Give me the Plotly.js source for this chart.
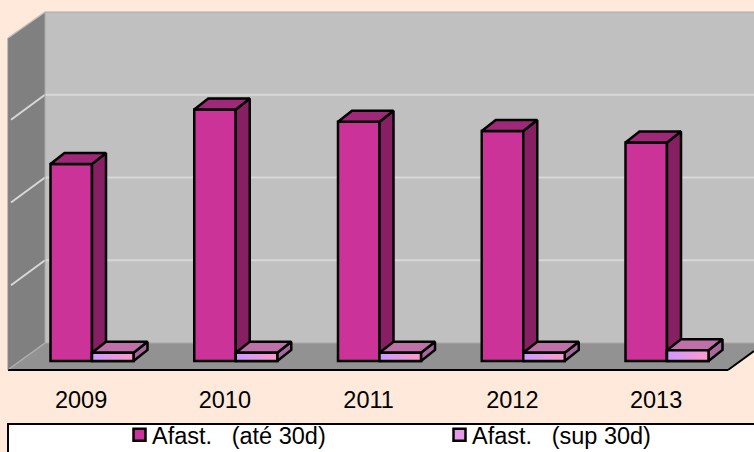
<!DOCTYPE html>
<html>
<head>
<meta charset="utf-8">
<script src="https://cdn.plot.ly/plotly-3.0.1.min.js"></script>
<style>html,body{margin:0;padding:0;background:#FFE9DA;overflow:hidden}</style>
</head>
<body>
<div id="chart" style="width:754px;height:452px"></div>
<script>
var categories = ["2009", "2010", "2011", "2012", "2013"];
var upTo30 = [238, 304, 289, 278, 264];
var over30 = [10, 10, 10, 10, 13];
var seriesNames = ["Afast.   (até 30d)", "Afast.   (sup 30d)"];
var gridValues = [100, 200, 300];

var W = 754, H = 452, plotB = 383;
var pxPerCat = 143.75, pxPerUnit = 0.8275, zeroX = 92, zeroY = 361;
function dx(p) { return (p - zeroX) / pxPerCat; }
function dy(p) { return (zeroY - p) / pxPerUnit; }
var barW = 41.5 / pxPerCat, depthX = 14 / pxPerCat, depthY = 11 / pxPerUnit;
var xs = categories.map(function (_, i) { return i; });
var edge = 2.5;

function poly(vals, fn) {
  var X = [], Y = [];
  vals.forEach(function (v, i) {
    fn(i, v).forEach(function (p) { X.push(p[0]); Y.push(p[1]); });
    X.push(null); Y.push(null);
  });
  return { x: X, y: Y };
}
function side(x0) {
  return function (i, v) {
    var r = i + x0 + barW;
    return [[r, 0], [r, v], [r + depthX, v + depthY], [r + depthX, depthY], [r, 0]];
  };
}
function top3d(x0) {
  return function (i, v) {
    var l = i + x0, r = l + barW;
    return [[l, v], [r, v], [r + depthX, v + depthY], [l + depthX, v + depthY], [l, v]];
  };
}
function solid(p, color) {
  return { type: "scatter", mode: "lines", x: p.x, y: p.y, fill: "toself", fillcolor: color,
    line: { color: "#000", width: edge }, showlegend: false, hoverinfo: "skip" };
}

var traces = [
  { type: "bar", name: seriesNames[0], x: xs, y: upTo30, width: barW, offset: -barW,
    marker: { color: "#CC3399", line: { color: "#000", width: edge } } },
  { type: "bar", name: seriesNames[1], x: xs, y: over30, width: barW, offset: 0,
    marker: { color: "#E59AE5", line: { color: "#000", width: edge } } },
  solid(poly(upTo30, side(-barW)), "#862062"),
  solid(poly(upTo30, top3d(-barW)), "#A02878"),
  solid(poly(over30, side(0)), "#A8689C"),
  solid(poly(over30, top3d(0)), "#C070A8")
];
over30.forEach(function (v, i) {
  traces.push({ type: "scatter", mode: "lines",
    x: [i, i + barW, i + barW, i, i], y: [0, 0, v, v, 0], fill: "toself",
    fillgradient: { type: "horizontal", colorscale: [[0, "#CC99FF"], [1, "#FF99CC"]] },
    line: { color: "#000", width: edge }, showlegend: false, hoverinfo: "skip" });
});

function path(pts) {
  return pts.map(function (p, i) { return (i ? "L" : "M") + dx(p[0]) + "," + dy(p[1]); }).join(" ") + " Z";
}
var shapes = [];
function fillShape(pts, color) {
  shapes.push({ type: "path", xref: "x", yref: "y", layer: "between", path: path(pts), fillcolor: color, line: { width: 0 } });
}
function seg(x0, y0, x1, y1, color, w) {
  shapes.push({ type: "line", xref: "x", yref: "y", layer: "between", x0: dx(x0), y0: dy(y0), x1: dx(x1), y1: dy(y1), line: { color: color, width: w } });
}
fillShape([[45, 12], [754, 12], [754, 343], [45, 343]], "#C0C0C0");
fillShape([[8, 38], [45, 12], [45, 343], [8, 370]], "#808080");
fillShape([[8, 370], [45, 343], [754, 343], [754, 351], [728, 370]], "#929292");
seg(45, 12, 754, 12, "#AAAAAA", 1);
seg(8, 38, 45, 12, "#C0C0C0", 1.5);
gridValues.forEach(function (g) {
  var back = 343 - g * pxPerUnit;
  seg(45, back, 754, back, "#D8D8D8", 2);
  seg(11, back + 25, 45, back, "#D8D8D8", 2);
});
seg(45, 12, 45, 343, "#A8A8A8", 1);
seg(45, 343, 754, 343, "#A8A8A8", 1);
seg(9, 369, 45, 343, "#B0B0B0", 1.5);
seg(8, 370, 728, 370, "#000000", 2);
seg(728, 370, 754, 351, "#000000", 2);
seg(8, 38, 8, 370, "#8C8C8C", 1);
// legend panel
shapes.push({ type: "rect", xref: "paper", yref: "paper", layer: "below",
  x0: 8 / W, x1: 1.01, y0: -0.3, y1: -(424 - plotB) / plotB, fillcolor: "#fff", line: { color: "#000", width: 2 } });

var layout = {
  width: W, height: H, autosize: false,
  margin: { l: 0, r: 0, t: 0, b: H - plotB, pad: 0 },
  paper_bgcolor: "#FFE9DA", plot_bgcolor: "rgba(0,0,0,0)",
  font: { family: "Liberation Sans, Arial, sans-serif", color: "#000" },
  barmode: "overlay",
  xaxis: { range: [dx(0), dx(W)], tickmode: "array", tickvals: xs.map(function (i) { return i - 0.076; }),
    ticktext: categories, showgrid: false, zeroline: false, showline: false, ticks: "", fixedrange: true,
    tickfont: { size: 23.5 }, automargin: false },
  yaxis: { range: [dy(plotB), dy(0)], showgrid: false, zeroline: false, showticklabels: false, ticks: "", fixedrange: true, automargin: false },
  shapes: shapes,
  showlegend: true,
  legend: { orientation: "h", xref: "container", yref: "container", x: 112 / W, xanchor: "left", y: 0, yanchor: "bottom",
    bgcolor: "rgba(0,0,0,0)", borderwidth: 0, font: { size: 23.5 }, entrywidth: 275, entrywidthmode: "pixels", itemclick: false, itemdoubleclick: false, traceorder: "normal" }
};
function nudgeLegend() {
  document.querySelectorAll("#chart .legend .legendpoints").forEach(function (n) {
    n.setAttribute("transform", "translate(7.5,0)");
  });
  document.querySelectorAll("#chart .legend .legendpoints path").forEach(function (n) {
    n.style.strokeWidth = "2.5px";
  });
  var lg = document.querySelector("#chart .legend");
  var t = lg.getAttribute("transform");
  var m = /translate\(([-\d.]+)[ ,]*([-\d.]*)\)/.exec(t);
  if (m) lg.setAttribute("transform", "translate(" + m[1] + "," + (parseFloat(m[2] || 0) + 5) + ")");
  var clip = lg.querySelector(".scrollbox");
  if (clip) clip.removeAttribute("clip-path");
}
Plotly.newPlot("chart", traces, layout, { displayModeBar: false }).then(nudgeLegend);
</script>
</body>
</html>
